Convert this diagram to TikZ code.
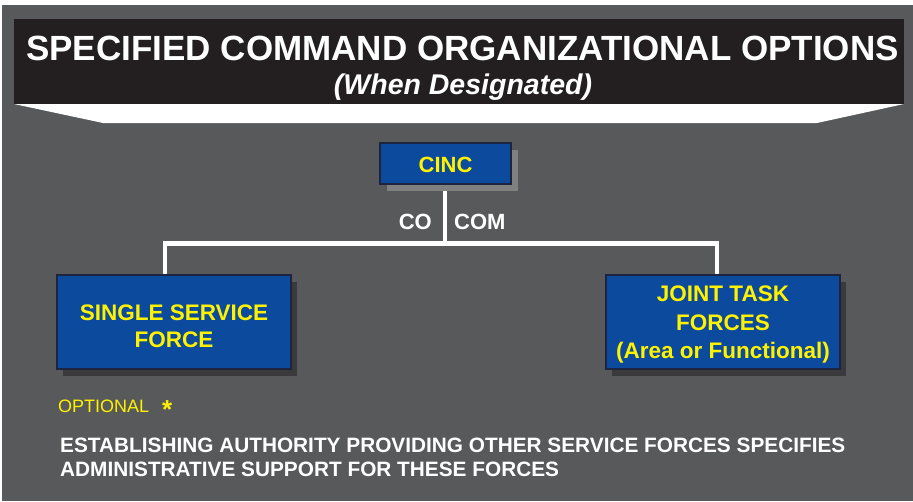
\documentclass[tikz,border=0pt]{standalone}
\usepackage{fontspec}
\setmainfont{Liberation Sans}
\usetikzlibrary{shadows}
\definecolor{bg}{RGB}{88,89,91}
\definecolor{ban}{RGB}{35,31,32}
\definecolor{boxblue}{RGB}{12,74,158}
\definecolor{boxline}{RGB}{28,36,64}
\definecolor{txtyel}{RGB}{255,242,0}
\definecolor{shlight}{RGB}{128,128,128}
\definecolor{shdark}{RGB}{58,58,60}
\tikzset{
  cmdbox/.style={rectangle,draw=boxline,line width=1.2pt,fill=boxblue,inner sep=0pt},
  boxtext/.style={text=txtyel,font=\bfseries\fontsize{22.5}{27}\selectfont,align=center,inner sep=0pt},
  hishadow/.style={drop shadow={shadow xshift=7pt,shadow yshift=-7pt,fill=shlight,opacity=1}},
  loshadow/.style={drop shadow={shadow xshift=6pt,shadow yshift=-7pt,fill=shdark,opacity=1}},
  wire/.style={draw=white,line width=4.5pt},
  lbl/.style={text=white,font=\bfseries\fontsize{22}{26}\selectfont,inner sep=0pt},
  note/.style={text=white,font=\bfseries\fontsize{20.8}{24}\selectfont,inner sep=0pt,anchor=base west},
}
\begin{document}
\begin{tikzpicture}[x=1pt,y=-1pt]
\useasboundingbox (0,0) rectangle (913,501);
% Background and banner
\fill[white] (0,0) rectangle (913,501);
\fill[bg] (2,5) rectangle (913,501);
\fill[ban] (14,19) rectangle (904,104);
\fill[white] (14,104) -- (904,104) -- (817,123) -- (103,123) -- cycle;
\node[anchor=base,text=white,inner sep=0pt,font=\bfseries\fontsize{35}{40}\selectfont] (title) at (462.5,60)
  {SPECIFIED COMMAND ORGANIZATIONAL OPTIONS};
\node[anchor=base,text=white,inner sep=0pt,font=\bfseries\itshape\fontsize{28.5}{32}\selectfont] (subtitle) at (463,94)
  {(When Designated)};

% --- Connectors ---
\coordinate (busL) at (165,243.5);
\coordinate (busR) at (717,243.5);
\coordinate (cincfoot) at (445,184);
\draw[wire] (cincfoot) -- (cincfoot |- busL);
\draw[wire] (165,276) -- (busL) -- (busR) -- (717,276);

% --- Command boxes ---
\node[cmdbox,hishadow,minimum width=131pt,minimum height=41pt] (cinc) at (445.5,163.5) {};
\node[boxtext,font=\bfseries\fontsize{22}{26}\selectfont] (cinctext) at ([yshift=-1.5pt]cinc.center) {CINC};
\node[cmdbox,loshadow,minimum width=234pt,minimum height=94pt] (ssf) at (174,322) {};
\node[boxtext] (ssftext) at ([yshift=-4.5pt]ssf.center) {SINGLE SERVICE\\FORCE};
\node[cmdbox,loshadow,minimum width=234pt,minimum height=94pt] (jtf) at (723,322) {};
\node[boxtext,font=\bfseries\fontsize{22.5}{28.2}\selectfont] (jtftext) at ([yshift=-2.5pt]jtf.center)
  {JOINT TASK\\FORCES\\(Area or Functional)};

% Labels
\node[lbl,anchor=base east] (co) at (432,229) {CO};
\node[lbl,anchor=base west] (com) at (454,229) {COM};
\node[anchor=base west,text=txtyel,inner sep=0pt,font=\fontsize{18}{22}\selectfont] (opt) at (58,412) {OPTIONAL};
\node[anchor=base west,text=txtyel,inner sep=0pt,font=\bfseries\fontsize{26}{30}\selectfont] (star) at (162,418) {*};
\node[note] (est1) at (60,452) {ESTABLISHING AUTHORITY PROVIDING OTHER SERVICE FORCES SPECIFIES};
\node[note] (est2) at (60,476) {ADMINISTRATIVE SUPPORT FOR THESE FORCES};
\end{tikzpicture}
\end{document}
